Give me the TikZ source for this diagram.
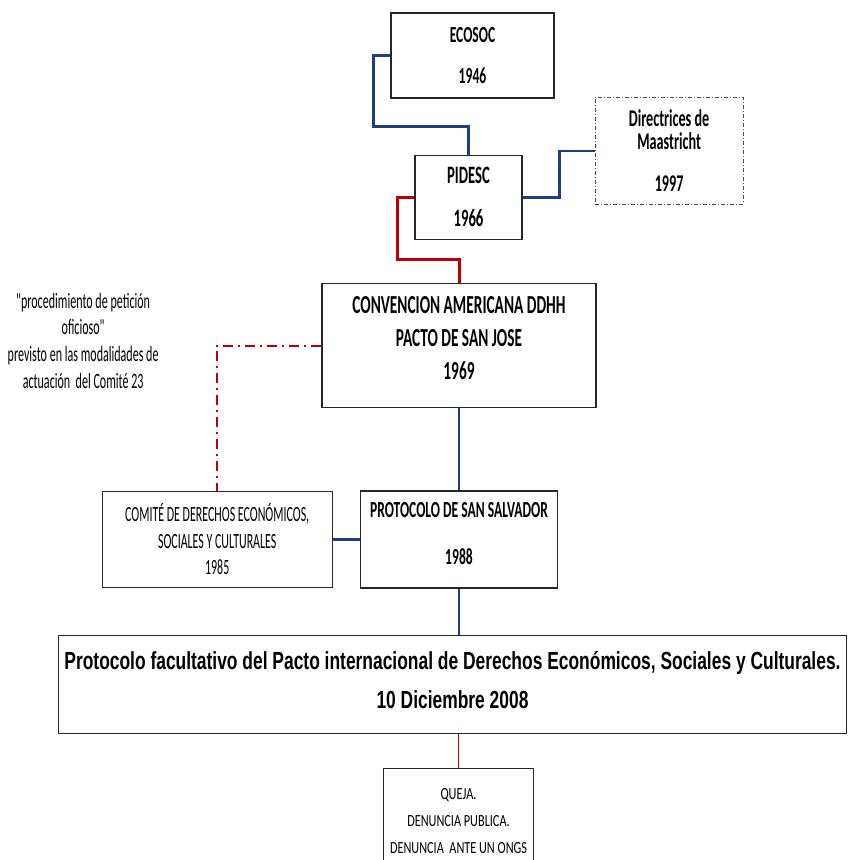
\documentclass[tikz,border=0pt]{standalone}
\usepackage{fontspec}
\setmainfont{Carlito}
\newfontfamily\slimfont[FakeStretch=0.59]{Carlito}
\newfontfamily\narrowfont[FakeStretch=0.55]{Carlito}
\newfontfamily\plainfont[FakeStretch=0.72]{Carlito}
\newfontfamily\widefont[FakeStretch=0.705]{Liberation Sans}
\usetikzlibrary{positioning}
\definecolor{linkblue}{HTML}{1F3C88}
\definecolor{linkred}{HTML}{C00000}

\begin{document}
\begin{tikzpicture}[x=1pt, y=-1pt,
    box/.style={draw=black!85, line width=1.3pt, inner sep=0pt, align=center, fill=white},
    dotbox/.style={draw=black!70, line width=1pt, dash pattern=on 4pt off 2pt on 1pt off 2pt, inner sep=0pt, align=center},
    blueline/.style={draw=linkblue, line width=2.4pt},
    thinblue/.style={draw=linkblue, line width=1.5pt},
    redline/.style={draw=linkred, line width=3pt},
    thinred/.style={draw=linkred, line width=1.5pt},
    dashred/.style={draw=linkred, line width=2pt, dash pattern=on 10pt off 5pt on 2pt off 5pt}
  ]
    \useasboundingbox (0,0) rectangle (849,860);

    \node[box, minimum width=163pt, minimum height=85pt, font=\slimfont\bfseries\fontsize{23}{41}\selectfont] (ecosoc) at (472.5,55.5) {ECOSOC\\1946};
    \node[box, minimum width=107pt, minimum height=84pt, font=\slimfont\bfseries\fontsize{25}{43}\selectfont, below=56pt of ecosoc, xshift=-4pt] (pidesc) {PIDESC\\1966};
    \node[dotbox, minimum width=148pt, minimum height=107pt, font=\slimfont\bfseries\fontsize{24}{23}\selectfont, right=72pt of pidesc, yshift=46.5pt] (maastricht) {Directrices de\\Maastricht\\[19pt]1997};

    \node[box, minimum width=274pt, minimum height=124pt, font=\slimfont\bfseries\fontsize{26}{33}\selectfont, below=43pt of pidesc, xshift=-9.5pt] (convencion) {CONVENCION AMERICANA DDHH\\PACTO DE SAN JOSE\\1969\\[-17pt]\mbox{}};
    \node[align=flush center, inner sep=0pt, text width=170pt, font=\narrowfont\fontsize{21.9}{26.7}\selectfont, left=153pt of convencion, yshift=5pt] (oficioso) {"procedimiento de petición\\oficioso"\\previsto en las modalidades de\\actuación\ \ del Comité 23};

    \node[box, minimum width=197pt, minimum height=97pt, font=\slimfont\bfseries\fontsize{23}{47}\selectfont, below=82pt of convencion] (salvador) {PROTOCOLO DE SAN SALVADOR\\1988\\[-35pt]\mbox{}};
    \node[box, minimum width=230pt, minimum height=96pt, font=\narrowfont\fontsize{21.7}{26.5}\selectfont, left=27pt of salvador] (comite) {COMITÉ DE DERECHOS ECONÓMICOS,\\SOCIALES Y CULTURALES\\1985};

    \node[box, minimum width=788pt, minimum height=98pt, font=\widefont\bfseries\fontsize{24.7}{39}\selectfont, below=46pt of salvador, xshift=-6.5pt] (facultativo) {Protocolo facultativo del Pacto internacional de Derechos Económicos, Sociales y Culturales.\\10 Diciembre 2008\\[-31pt]\mbox{}};
    \node[box, minimum width=150pt, minimum height=106pt, font=\plainfont\fontsize{17}{27}\selectfont, below=34pt of facultativo, xshift=6pt] (queja) {QUEJA.\\DENUNCIA PUBLICA.\\DENUNCIA\ \ ANTE UN ONGS};

    \draw[blueline] (ecosoc.west) -- ++(-17,0) |- ([yshift=28pt]pidesc.north) -- (pidesc.north);
    \draw[blueline] (pidesc.east) -- ++(37,0) |- (maastricht.west);
    \draw[redline] (pidesc.west) -- ++(-17,0) |- ([yshift=23pt]convencion.north) -- (convencion.north);
    \draw[dashred] (convencion.west) -| (comite.north);
    \draw[thinblue] (convencion.south) -- (convencion.south |- salvador.north);
    \draw[blueline] (comite.east) -- (salvador.west);
    \draw[thinblue] (salvador.south) -- (salvador.south |- facultativo.north);
    \draw[thinred] (queja.north |- facultativo.south) -- (queja.north);
  \end{tikzpicture}
\end{document}
